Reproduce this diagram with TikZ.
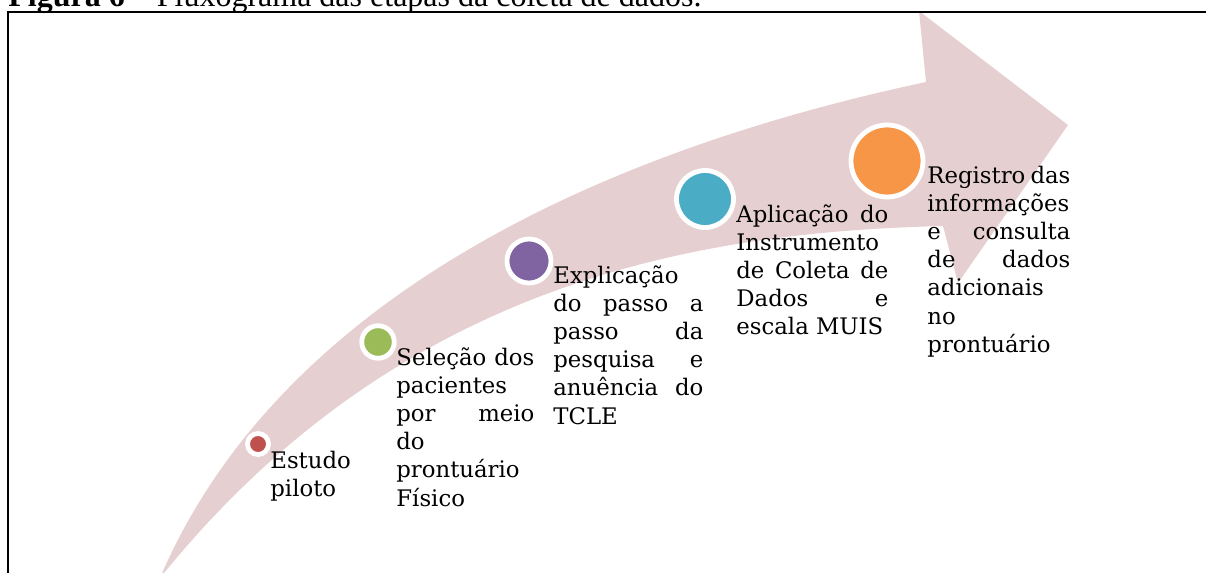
\documentclass[tikz,border=0pt]{standalone}
\usepackage{fontspec}
\setmainfont{DejaVu Serif}
\newfontfamily\titlefont{Liberation Serif}
\usetikzlibrary{positioning}
\definecolor{arrowpink}{RGB}{230,207,208}
\definecolor{stagered}{RGB}{192,80,77}
\definecolor{stagegreen}{RGB}{155,187,89}
\definecolor{stagepurple}{RGB}{128,100,162}
\definecolor{stageteal}{RGB}{75,172,198}
\definecolor{stageorange}{RGB}{247,150,70}
\hbadness=10000
\hfuzz=4pt
\hyphenpenalty=10000

\begin{document}
\begin{tikzpicture}[x=0.5pt, y=-0.5pt,
    stage/.style={circle,draw=white,line width=2.4pt,inner sep=0pt},
    steptext/.style={anchor=base west,inner sep=0pt,align=justify,font=\fontsize{11.4}{14.1}\selectfont}]
          \useasboundingbox (0,0) rectangle (1206,573);
          \clip (0,0) rectangle (1206,573);
          \node[anchor=base west,inner sep=0pt,font=\titlefont\fontsize{16}{19}\selectfont] (title) at (8,6.5)
               {\textbf{Figura 6} – Fluxograma das etapas da coleta de dados.};
          \fill[arrowpink] (160,578) .. controls (270,320) and (560,160) .. (926,82)
               -- (919,11) -- (1068,125) -- (958,283) -- (943,226)
               .. controls (700,232) and (400,280) .. (160,578) -- cycle;
          \draw[line width=0.7pt] (8,573) -- (8,12) -- (1206,12);
          \node[stage,fill=stagered,minimum size=10.5pt](c1)    at (258,444) {};
          \node[stage,fill=stagegreen,minimum size=16.25pt](c2)  at (378,342) {};
          \node[stage,fill=stagepurple,minimum size=22pt](c3)    at (529,261) {};
          \node[stage,fill=stageteal,minimum size=28.5pt](c4)    at (705,199) {};
          \node[stage,fill=stageorange,minimum size=36pt](c5)    at (887,161) {};
          \node[steptext,text width=50pt](t1) at (270,468)
               {Estudo\linebreak piloto};
          \node[steptext,text width=69pt](t2) at (396,365)
               {Seleção dos\linebreak pacientes\linebreak por meio\linebreak do\linebreak prontuário\linebreak Físico};
          \node[steptext,text width=75pt](t3) at (553,283)
               {Explicação\linebreak do passo a\linebreak passo da\linebreak pesquisa e\linebreak anuência do\linebreak TCLE};
          \node[steptext,text width=76pt](t4) at (736,222)
               {Aplicação do\linebreak Instrumento\linebreak de Coleta de\linebreak Dados e\linebreak escala MUIS};
          \node[steptext,text width=71.5pt](t5) at (927,183)
               {Registro das\linebreak informações\linebreak e consulta\linebreak de dados\linebreak adicionais\linebreak no\linebreak prontuário};
        \end{tikzpicture}
\end{document}
